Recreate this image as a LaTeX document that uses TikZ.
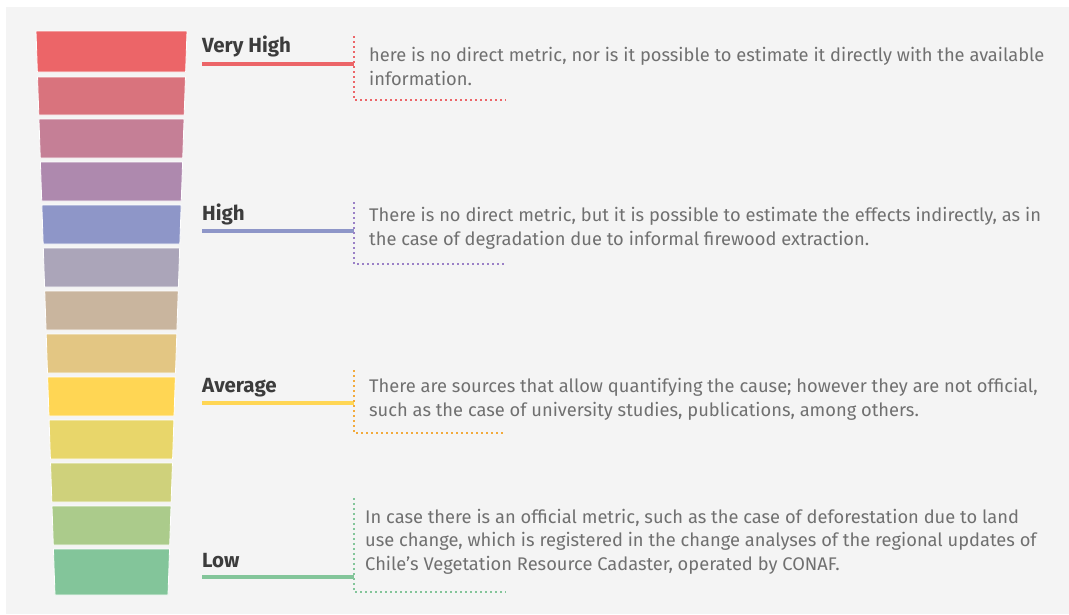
\documentclass[tikz,border=0pt]{standalone}
\usepackage{fontspec}
\setmainfont{Fira Sans}
\definecolor{bgc}{HTML}{F4F4F4}
\definecolor{b1}{HTML}{EC6568}
\definecolor{b2}{HTML}{D9737D}
\definecolor{b3}{HTML}{C57F96}
\definecolor{b4}{HTML}{AE89AE}
\definecolor{b5}{HTML}{8E96C8}
\definecolor{b6}{HTML}{ABA5B9}
\definecolor{b7}{HTML}{C9B59E}
\definecolor{b8}{HTML}{E3C683}
\definecolor{b9}{HTML}{FFD654}
\definecolor{b10}{HTML}{E8D66A}
\definecolor{b11}{HTML}{CFD17B}
\definecolor{b12}{HTML}{ABCB8B}
\definecolor{b13}{HTML}{83C59A}
\definecolor{dotpurple}{HTML}{9A80C6}
\definecolor{dotorange}{HTML}{F2AA3C}
\definecolor{labc}{HTML}{3C3C3C}
\definecolor{descc}{HTML}{707070}
\begin{document}
\begin{tikzpicture}[x=1pt,y=-1pt,
  lab/.style={anchor=base west, inner sep=0pt, text=labc, font=\fontsize{20.5}{24}\selectfont\bfseries},
  desc/.style={anchor=base west, inner sep=0pt, text=descc, align=left, font=\fontsize{18.3}{23.7}\selectfont},
  uline/.style={line width=4.5pt},
  dots/.style={line width=2pt, dash pattern=on 1.5pt off 3.5pt}]
\useasboundingbox (0,0) rectangle (1069,614);
\fill[bgc] (6,7) rectangle (1069,614);
\foreach \t/\b/\c in {31/72/b1,77/115/b2,119/158/b3,162/201/b4,205/244/b5,248/287/b6,291/330/b7,334/373/b8,377/416/b9,420/459/b10,463/502/b11,506/545/b12,549/595/b13}{
  \pgfmathsetmacro\lt{36+19*(\t-31)/564}
  \pgfmathsetmacro\rt{187-19*(\t-31)/564}
  \pgfmathsetmacro\lb{36+19*(\b-31)/564}
  \pgfmathsetmacro\rb{187-19*(\b-31)/564}
  \filldraw[fill=\c, draw=white, line width=0.8pt] (\lt,\t) -- (\rt,\t) -- (\rb,\b) -- (\lb,\b) -- cycle;
}
% Very High
\node[lab] (lvh) at (202,52) {Very High};
\coordinate (uvha) at (202,64); \coordinate (uvhb) at (354,64);
\draw[uline, b1] (uvha) -- (uvhb);
\coordinate (bvha) at (354,36); \coordinate (bvhb) at (354,100); \coordinate (bvhc) at (506,100);
\draw[dots, b1] (bvha) -- (bvhb) -- (bvhc);
\node[desc] (tvh) at (369,85.5) {here is no direct metric, nor is it possible to estimate it directly with the available\\information.};
% High
\node[lab] (lhi) at (202,220) {High};
\coordinate (uhia) at (202,231); \coordinate (uhib) at (354,231);
\draw[uline, b5] (uhia) -- (uhib);
\coordinate (bhia) at (354,202); \coordinate (bhib) at (354,264); \coordinate (bhic) at (506,264);
\draw[dots, dotpurple] (bhia) -- (bhib) -- (bhic);
\node[desc] (thi) at (369,245.5) {There is no direct metric, but it is possible to estimate the effects indirectly, as in\\the case of degradation due to informal firewood extraction.};
% Average
\node[lab] (lav) at (202,392) {Average};
\coordinate (uava) at (202,403); \coordinate (uavb) at (354,403);
\draw[uline, b9] (uava) -- (uavb);
\coordinate (bava) at (354,370); \coordinate (bavb) at (354,433); \coordinate (bavc) at (506,433);
\draw[dots, dotorange] (bava) -- (bavb) -- (bavc);
\node[desc] (tav) at (369,416.5) {There are sources that allow quantifying the cause; however they are not official,\\such as the case of university studies, publications, among others.};
% Low
\node[lab] (llo) at (202,567) {Low};
\coordinate (uloa) at (202,577); \coordinate (ulob) at (354,577);
\draw[uline, b13] (uloa) -- (ulob);
\coordinate (bloa) at (354,498); \coordinate (blob) at (354,592); \coordinate (bloc) at (506,592);
\draw[dots, b13] (bloa) -- (blob) -- (bloc);
\node[desc] (tlo) at (365,570.5) {In case there is an official metric, such as the case of deforestation due to land\\use change, which is registered in the change analyses of the regional updates of\\Chile's Vegetation Resource Cadaster, operated by CONAF.};
\end{tikzpicture}
\end{document}
